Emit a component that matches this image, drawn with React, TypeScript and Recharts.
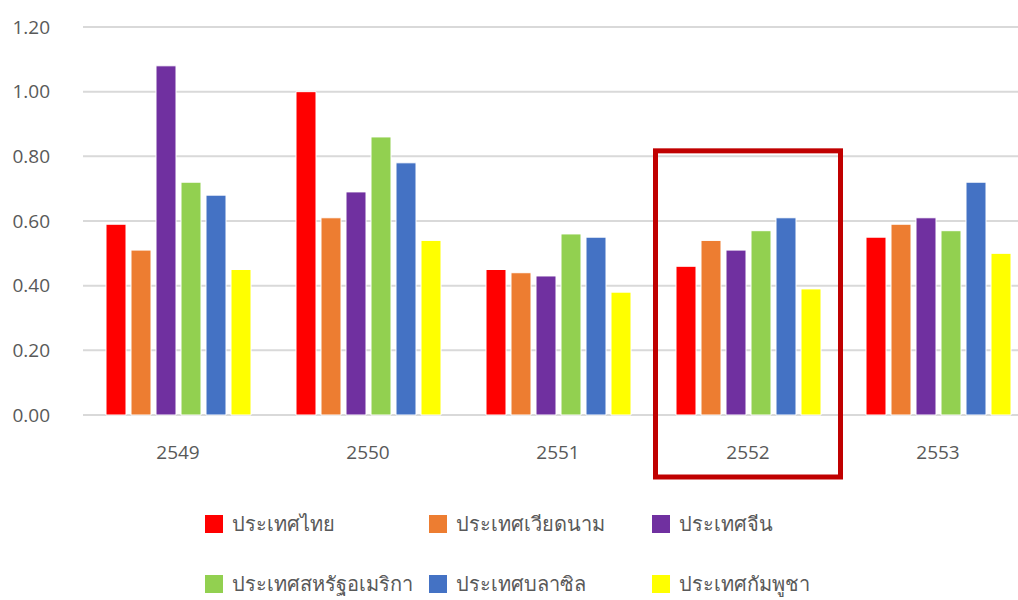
import React from "react";
import {
  BarChart,
  Bar,
  XAxis,
  YAxis,
  CartesianGrid,
  ReferenceArea,
} from "recharts";

// Years (Thai Buddhist calendar)
const years = ["2549", "2550", "2551", "2552", "2553"];

// Country names and colours
const countries = [
  "ประเทศไทย",
  "ประเทศเวียดนาม",
  "ประเทศจีน",
  "ประเทศสหรัฐอเมริกา",
  "ประเทศบลาซิล",
  "ประเทศกัมพูชา",
];
const colors = ["#FF0000", "#ED7D31", "#7030A0", "#92D050", "#4472C4", "#FFFF00"];

// Values per country, one per year
const thailand = [0.59, 1.0, 0.45, 0.46, 0.55];
const vietnam = [0.51, 0.61, 0.44, 0.54, 0.59];
const china = [1.08, 0.69, 0.43, 0.51, 0.61];
const usa = [0.72, 0.86, 0.56, 0.57, 0.57];
const brazil = [0.68, 0.78, 0.55, 0.61, 0.72];
const cambodia = [0.45, 0.54, 0.38, 0.39, 0.5];

const yTicks = [0, 0.2, 0.4, 0.6, 0.8, 1.0, 1.2];

// highlighted year and the top of the highlight box
const highlightYear = "2552";
const highlightTop = 0.817;

const series = [thailand, vietnam, china, usa, brazil, cambodia];

const data = years.map((year, i) => {
  const row: any = { year };
  series.forEach((s, k) => {
    row["s" + k] = s[i];
  });
  return row;
});

const FONT = "'Open Sans', 'Noto Sans', 'DejaVu Sans', sans-serif";

// Box around the highlighted year, stretched down over the tick label
const HighlightBox = (props: any) => {
  const { x, y, width, height } = props;
  return (
    <rect
      x={x + 2.5}
      y={y}
      width={width - 5}
      height={height + 62}
      fill='none'
      stroke='#C00000'
      strokeWidth={5}
    />
  );
};

const legendCols = [205, 429, 652];
const legendRows = [524, 584];

const App = () => {
  return (
    <div
      style={{
        position: "fixed",
        left: 0,
        top: 0,
        width: 1018,
        height: 600,
        overflow: "hidden",
        background: "#fff",
        fontFamily: FONT,
      }}
    >
      <BarChart
        width={1050}
        height={600}
        data={data}
        margin={{ top: 27, right: 17, left: 0, bottom: 155 }}
        barSize={20}
        barGap={5}
      >
        <CartesianGrid vertical={false} stroke='#D9D9D9' strokeWidth={2} />
        <XAxis
          dataKey='year'
          axisLine={false}
          tickLine={false}
          tickMargin={25}
          height={30}
          tick={{ fontSize: 19, fill: "#595959", fontFamily: FONT }}
        />
        <YAxis
          width={83}
          domain={[0, 1.2]}
          ticks={yTicks}
          axisLine={false}
          tickLine={false}
          tickMargin={27}
          tickFormatter={(v: number) => v.toFixed(2)}
          tick={{ fontSize: 19, fill: "#595959", fontFamily: FONT }}
        />
        {countries.map((name, k) => (
          <Bar
            key={name}
            dataKey={"s" + k}
            name={name}
            fill={colors[k]}
            stroke='#fff'
            strokeWidth={1}
            isAnimationActive={false}
          />
        ))}
        <ReferenceArea
          x1={highlightYear}
          x2={highlightYear}
          y1={0}
          y2={highlightTop}
          ifOverflow='visible'
          shape={<HighlightBox />}
        />
      </BarChart>

      {/* Legend, 3 columns x 2 rows */}
      {countries.map((name, k) => {
        const col = k % 3;
        const row = Math.floor(k / 3);
        return (
          <div
            key={name}
            style={{
              position: "absolute",
              left: legendCols[col],
              top: legendRows[row] - 14,
              height: 28,
              display: "flex",
              alignItems: "center",
              fontSize: 20,
              color: "#595959",
              whiteSpace: "nowrap",
            }}
          >
            <span
              style={{
                width: 18,
                height: 18,
                background: colors[k],
                marginRight: 9,
                display: "inline-block",
              }}
            />
            {name}
          </div>
        );
      })}
    </div>
  );
};

export default App;
